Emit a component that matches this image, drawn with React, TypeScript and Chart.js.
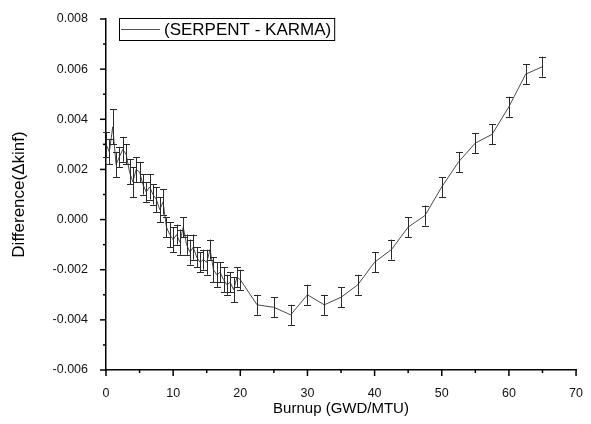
import React, { useEffect, useRef } from "react";
import { Chart, registerables } from "chart.js";

Chart.register(...registerables);

const burnup = [
  0, 0.5, 1, 1.5, 2, 2.5, 3, 3.5, 4, 4.5, 5, 5.5, 6, 6.5, 7, 7.5, 8, 8.5, 9, 9.5,
  10, 10.5, 11, 11.5, 12, 12.5, 13, 13.5, 14, 14.5, 15, 15.5, 16, 16.5, 17, 17.5,
  18, 18.5, 19, 19.5, 20, 22.5, 25, 27.5, 30, 32.5, 35, 37.5, 40, 42.5, 45, 47.5,
  50, 52.5, 55, 57.5, 60, 62.5, 65,
];

const difference = [
  0.003, 0.0027, 0.0037, 0.0022, 0.0025, 0.0028, 0.0026, 0.0019, 0.0015, 0.002,
  0.0019, 0.0014, 0.0011, 0.0013, 0.001, 0.0008, 0.0004, 0.0007, -0.0003, -0.0006,
  -0.0008, -0.0006, -0.0009, -0.0003, -0.001, -0.0013, -0.0011, -0.0015, -0.0017, -0.0016,
  -0.0017, -0.0012, -0.002, -0.0022, -0.0021, -0.0024, -0.0026, -0.0025, -0.0028, -0.0023,
  -0.0024, -0.0034, -0.0035, -0.0038, -0.003, -0.0034, -0.0031, -0.0026, -0.0017, -0.0012,
  -0.0003, 0.00016, 0.0013, 0.0023, 0.00305, 0.0034, 0.0045, 0.0058, 0.0061,
];

const errors = [
  0.0005, 0.0005, 0.0007, 0.0005, 0.0004, 0.0005, 0.0004, 0.0005, 0.0006, 0.0005,
  0.0004, 0.0004, 0.0004, 0.0005, 0.0004, 0.0005, 0.0005, 0.0005, 0.0004, 0.0005,
  0.0005, 0.0004, 0.0005, 0.0004, 0.0004, 0.0005, 0.0005, 0.0004, 0.0004, 0.0004,
  0.0005, 0.0004, 0.0005, 0.0005, 0.0004, 0.0005, 0.0004, 0.0004, 0.0005, 0.0004,
  0.0004, 0.0004, 0.0004, 0.0004, 0.0004, 0.0004, 0.0004, 0.0004, 0.0004, 0.0004,
  0.0004, 0.0004, 0.0004, 0.0004, 0.0004, 0.0004, 0.0004, 0.0004, 0.0004,
];

const seriesLabel = "(SERPENT - KARMA)";
const xTitle = "Burnup (GWD/MTU)";
const yTitle = "Difference(\u0394kinf)";

const xMin = 0;
const xMax = 70;
const xMajor = 10;
const xMinor = 5;
const yMin = -0.006;
const yMax = 0.008;
const yMajor = 0.002;
const yMinor = 0.001;

const FONT = "'Liberation Sans', Arial, sans-serif";

const errorBarPlugin = {
  id: "errorBars",
  afterDatasetsDraw(chart: any) {
    const { ctx, scales } = chart;
    const xs = scales.x;
    const ys = scales.y;
    ctx.save();
    ctx.strokeStyle = "#2a2a2a";
    ctx.lineWidth = 1;
    for (let i = 0; i < burnup.length; i++) {
      const px = Math.round(xs.getPixelForValue(burnup[i])) + 0.5;
      const top = ys.getPixelForValue(difference[i] + errors[i]);
      const bot = ys.getPixelForValue(difference[i] - errors[i]);
      ctx.beginPath();
      ctx.moveTo(px, top);
      ctx.lineTo(px, bot);
      ctx.moveTo(px - 3.5, Math.round(top) + 0.5);
      ctx.lineTo(px + 3.5, Math.round(top) + 0.5);
      ctx.moveTo(px - 3.5, Math.round(bot) + 0.5);
      ctx.lineTo(px + 3.5, Math.round(bot) + 0.5);
      ctx.stroke();
    }
    ctx.restore();
  },
};

const ticksPlugin = {
  id: "originTicks",
  afterDraw(chart: any) {
    const { ctx, scales, chartArea } = chart;
    const xs = scales.x;
    const ys = scales.y;
    ctx.save();
    ctx.strokeStyle = "#000";
    ctx.lineWidth = 1.5;
    const nx = Math.round((xMax - xMin) / xMinor);
    for (let i = 0; i <= nx; i++) {
      const v = xMin + i * xMinor;
      const major = Math.abs(v / xMajor - Math.round(v / xMajor)) < 1e-9;
      const px = xs.getPixelForValue(v);
      ctx.beginPath();
      ctx.moveTo(px, chartArea.bottom);
      ctx.lineTo(px, chartArea.bottom + (major ? 6 : 3));
      ctx.stroke();
    }
    const ny = Math.round((yMax - yMin) / yMinor);
    for (let i = 0; i <= ny; i++) {
      const v = yMin + i * yMinor;
      const major = Math.abs(v / yMajor - Math.round(v / yMajor)) < 1e-6;
      const py = ys.getPixelForValue(v);
      ctx.beginPath();
      ctx.moveTo(chartArea.left, py);
      ctx.lineTo(chartArea.left - (major ? 6 : 3), py);
      ctx.stroke();
    }
    ctx.restore();
  },
};

const legendPlugin = {
  id: "boxLegend",
  afterDraw(chart: any) {
    const { ctx, chartArea } = chart;
    const label = chart.data.datasets[0].label;
    ctx.save();
    ctx.font = `17px ${FONT}`;
    const tw = ctx.measureText(label).width;
    const x0 = chartArea.left + 13;
    const y0 = chartArea.top - 1;
    const lineLen = 39;
    const w = 3 + lineLen + 3 + tw + 3;
    const h = 22;
    ctx.strokeStyle = "#000";
    ctx.lineWidth = 1;
    ctx.strokeRect(Math.round(x0) + 0.5, Math.round(y0) + 0.5, w, h);
    ctx.strokeStyle = "#555";
    ctx.beginPath();
    ctx.moveTo(x0 + 2, Math.round(y0 + h / 2) + 0.5);
    ctx.lineTo(x0 + 2 + lineLen, Math.round(y0 + h / 2) + 0.5);
    ctx.stroke();
    ctx.fillStyle = "#000";
    ctx.textBaseline = "middle";
    ctx.textAlign = "left";
    ctx.fillText(label, x0 + 3 + lineLen + 3, y0 + h / 2 + 1);
    ctx.restore();
  },
};

export default function App() {
  const canvasRef = useRef<HTMLCanvasElement | null>(null);

  useEffect(() => {
    if (!canvasRef.current) return;
    const points = burnup.map((b, i) => ({ x: b, y: difference[i] }));
    const chart = new Chart(canvasRef.current, {
      type: "line",
      data: {
        datasets: [
          {
            label: seriesLabel,
            data: points,
            borderColor: "#4a4a4a",
            borderWidth: 1,
            pointRadius: 0,
            tension: 0,
            fill: false,
          },
        ],
      },
      options: {
        animation: false,
        responsive: true,
        maintainAspectRatio: false,
        layout: { padding: { top: 19, right: 6, left: 0, bottom: 0 } },
        plugins: {
          legend: { display: false },
          tooltip: { enabled: false },
        },
        scales: {
          x: {
            type: "linear",
            min: xMin,
            max: xMax,
            afterFit: (s: any) => {
              s.height = 54;
            },
            grid: { display: false },
            border: { display: true, color: "#000", width: 1.5 },
            ticks: {
              stepSize: xMajor,
              color: "#111",
              font: { family: FONT, size: 12.5 },
              padding: 8,
              maxRotation: 0,
            },
            title: {
              display: true,
              text: xTitle,
              color: "#000",
              font: { family: FONT, size: 15 },
              padding: { top: 0, bottom: 6 },
            },
          },
          y: {
            type: "linear",
            min: yMin,
            max: yMax,
            afterFit: (s: any) => {
              s.width = 106;
            },
            grid: { display: false },
            border: { display: true, color: "#000", width: 1.5 },
            ticks: {
              stepSize: yMajor,
              color: "#111",
              font: { family: FONT, size: 12.5 },
              padding: 10,
              callback: (v: any) => Number(v).toFixed(3),
            },
            title: {
              display: true,
              text: yTitle,
              color: "#000",
              font: { family: FONT, size: 17 },
              padding: { top: 9, bottom: 0 },
            },
          },
        },
      },
      plugins: [errorBarPlugin, ticksPlugin, legendPlugin],
    });
    return () => chart.destroy();
  }, []);

  return (
    <div
      style={{
        position: "fixed",
        left: 0,
        top: 0,
        width: 591,
        height: 424,
        background: "#fff",
      }}
    >
      <canvas ref={canvasRef} />
    </div>
  );
}
